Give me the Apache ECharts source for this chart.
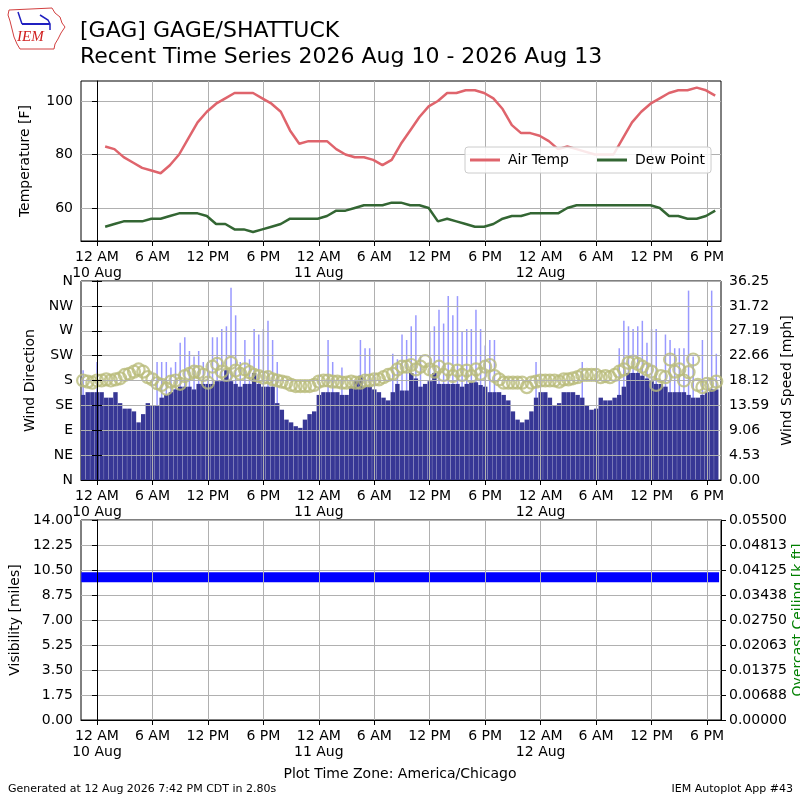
<!DOCTYPE html>
<html>
<head>
<meta charset="utf-8">
<script src="https://cdn.jsdelivr.net/npm/echarts@6/dist/echarts.min.js"></script>
<style>
html, body { margin: 0; padding: 0; background: #fff; }
#chart { width: 800px; height: 800px; }
</style>
</head>
<body>
<div id="chart"></div>
<script>
// hours since 10 Aug 00:00 (America/Chicago)
var xMin = -1.73;
var xMax = 67.51;
var xTickValues = [0, 6, 12, 18, 24, 30, 36, 42, 48, 54, 60, 66];
var xTickLabels = ['12 AM\n10 Aug', '6 AM', '12 PM', '6 PM', '12 AM\n11 Aug', '6 AM', '12 PM', '6 PM', '12 AM\n12 Aug', '6 AM', '12 PM', '6 PM'];

// hourly obs at :53
var obsStart = 53 / 60;
var airTemp = [83, 82, 79, 77, 75, 74, 73, 76, 80, 86, 92, 96, 99, 101, 103, 103, 103, 101, 99, 96,
	89, 84, 85, 85, 85, 82, 80, 79, 79, 78, 76, 78, 84, 89, 94, 98, 100, 103, 103, 104,
	104, 103, 101, 97, 91, 88, 88, 87, 85, 82, 83, 82, 81, 80, 80, 80, 86, 92, 96, 99,
	101, 103, 104, 104, 105, 104, 102];
var dewPoint = [53, 54, 55, 55, 55, 56, 56, 57, 58, 58, 58, 57, 54, 54, 52, 52, 51, 52, 53, 54,
	56, 56, 56, 56, 57, 59, 59, 60, 61, 61, 61, 62, 62, 61, 61, 60, 55, 56, 55, 54,
	53, 53, 54, 56, 57, 57, 58, 58, 58, 58, 60, 61, 61, 61, 61, 61, 61, 61, 61, 61,
	60, 57, 57, 56, 56, 57, 59];
var tempTicks = [60, 80, 100];

// wind every 30 minutes starting at -1.5 h
var windStart = -1.5;
var windStep = 0.5;
var windSpeed = [
	15.5, 16, 16, 16, 16, 15, 15, 16, 14, 13, 13, 12.5, 10.5, 12, 14, 13.5, 13.5, 15, 15.5, 16,
	16.5, 17, 17, 17, 16.5, 17.5, 17.5, 17.5, 17.5, 18, 18, 20, 18, 17.5, 17,
	17.5, 17.5, 19.5, 17.5, 17, 17, 17, 14, 12.8, 11, 10.5, 9.8, 9.5, 11, 12, 12.5, 15.5, 16, 16, 16,
	16, 15.5, 15.5, 17, 18, 19, 17, 17, 16.5, 16, 15, 14.5, 16, 17.5,
	16.3, 16.3, 19.5, 18.5, 17, 17.5, 18, 19.5, 17.5, 17.5, 17.5, 17.5, 17.5, 17, 17.5, 17.8, 17.8, 17.3, 17, 16,
	16, 16, 15.5, 14.5, 12.5, 11, 10.5, 11, 12.5, 15, 16, 16, 15, 13.5, 14,
	16, 16, 16, 15.5, 15, 13.5, 12.8, 13, 15, 14.5, 14.5, 15, 15.5, 17, 19.5, 19.5, 19.5, 19, 18.5, 18,
	17.5, 17.5, 17, 16, 16, 16, 16, 15.5, 15, 15, 15.5, 16, 16.5, 16.5];
var windGust = [
	20, null, null, 21.5, null, null, null, null, null, null, null, null, null, null, null, null,
	21.5, 21.5, 21.5, 20.5, 21.5, 25, 26, 23.5, 22.5, 23.5, 21.5, 21.5, 26, 26, 27.5, 28, 35, 30, 21.5,
	25.5, 22, 27.5, 26.5, 27.5, 29, 25.5, 21.5, null, null, null, null, null, null, null, null, null, null,
	25.5, 21.5, null, 20.5, null, null, null, 25.5, 24, 24, null, null, null, null, 23, 22,
	26.5, 25.5, 28, 30, 22.5, null, 27, 28, 31, 28.5, 33.5, 30, 33.5, 27, 27.5, 27.5, 31, 27.5, 24.5, 25.5, 25.5,
	null, null, null, null, null, null, null, null, 21.5, null, null, null, null, null,
	null, null, null, null, 21.5, null, null, null, null, null, null, null,
	24, 29, 28, 27.5, 28, 29, 25, 27.5, 27.5, null, 26.5, 25.5, 24, 24, 24, 34.5, 22.5, null, 25.5, null, 34.5, 23];
var windDir = [
	180, 178, 176, 180, 180, 182, 180, 182, 184, 190, 192, 196, 200, 196, 186, 182, 175, 172, 165, 178,
	180, 174, 188, 192, 196, 195, 190, 176, 205, 210, 196, 190, 212, 198, 192,
	200, 195, 190, 188, 185, 186, 182, 180, 178, 176, 172, 170, 170, 170, 170, 172, 178, 180, 180, 178,
	178, 176, 176, 178, 176, 176, 180, 180, 182, 182, 186, 190, 192, 200,
	205, 205, 208, 200, 205, 215, 200, 196, 205, 190, 200, 188, 198, 190, 198, 188, 200, 192, 205, 208,
	188, 182, 176, 176, 176, 176, 176, 168, 176, 178, 180, 180, 180, 180, 178,
	182, 182, 184, 186, 190, 190, 190, 190, 186, 188, 186, 190, 196, 200, 212, 214, 210, 205, 200, 196,
	172, 188, 186, 218, 196, 200, 180, 195, 218, 172, 168, 174, 172, 178];
var dirTickLabels = ['N', 'NE', 'E', 'SE', 'S', 'SW', 'W', 'NW', 'N'];
var speedTickLabels = ['0.00', '4.53', '9.06', '13.59', '18.12', '22.66', '27.19', '31.72', '36.25'];

// visibility, hourly
var visStart = -1.7;
var visibility = [10, 10, 10, 10, 10, 10, 10, 10, 10, 10, 10, 10, 10, 10, 10, 10, 10, 10, 10, 10,
	10, 10, 10, 10, 10, 10, 10, 10, 10, 10, 10, 10, 10, 10, 10, 10, 10, 10, 10, 10,
	10, 10, 10, 10, 10, 10, 10, 10, 10, 10, 10, 10, 10, 10, 10, 10, 10, 10, 10, 10,
	10, 10, 10, 10, 10, 10, 10, 10, 10, 10];
var ceilTickLabels = ['0.00000', '0.00688', '0.01375', '0.02063', '0.02750', '0.03438', '0.04125', '0.04813', '0.05500'];

function pairs(start, step, vals) {
	var out = [];
	for (var i = 0; i < vals.length; i++) {
		if (vals[i] !== null) out.push([start + i * step, vals[i]]);
	}
	return out;
}

var FONT = 'DejaVu Sans';
var GRIDC = '#b0b0b0';

function xAxisFor(gridIndex, hidden, z) {
	if (hidden) {
		return {type: 'value', gridIndex: gridIndex, min: xMin, max: xMax, show: false};
	}
	return {
		type: 'value', gridIndex: gridIndex, min: xMin, max: xMax, z: z || 0,
		axisLine: {show: true, onZero: false, lineStyle: {color: '#000'}},
		axisTick: {show: true, length: 5, customValues: xTickValues, lineStyle: {color: '#000'}},
		axisLabel: {
			customValues: xTickValues, color: '#000', fontSize: 14, fontFamily: FONT,
			margin: 8, lineHeight: 16,
			formatter: function (v) { return xTickLabels[xTickValues.indexOf(Math.round(v))]; }
		},
		splitLine: {show: true, lineStyle: {color: GRIDC, width: 1}}
	};
}

function yName(name, gap, color) {
	return {
		name: name, nameLocation: 'middle', nameGap: gap, nameRotate: 90,
		nameTextStyle: {fontSize: 14, fontFamily: FONT, color: color || '#000'}
	};
}

function gridAt(top, height) {
	return {
		left: 81, right: 79, top: top, height: height,
		outerBoundsMode: 'none', containLabel: false,
		show: true, borderColor: '#000', borderWidth: 1, backgroundColor: 'transparent'
	};
}

var chart = echarts.init(document.getElementById('chart'));

var option = {
	animation: false,
	backgroundColor: '#fff',
	textStyle: {fontFamily: FONT},
	grid: [gridAt(81, 160), gridAt(281, 199), gridAt(520, 200)],
	xAxis: [xAxisFor(0), xAxisFor(1, false, 10), xAxisFor(1, true), xAxisFor(2, false, 10)],
	yAxis: [
		Object.assign({
			type: 'value', gridIndex: 0, min: 47.66, max: 107.48,
			axisLine: {show: true, lineStyle: {color: '#000'}},
			axisTick: {show: true, length: 5, customValues: tempTicks, lineStyle: {color: '#000'}},
			axisLabel: {customValues: tempTicks, color: '#000', fontSize: 14, fontFamily: FONT, margin: 8},
			splitLine: {show: true, lineStyle: {color: GRIDC, width: 1}}
		}, yName('Temperature [F]', 49)),
		Object.assign({
			type: 'value', gridIndex: 1, min: 0, max: 360, interval: 45, z: 10,
			axisLine: {show: true, lineStyle: {color: '#000'}},
			axisTick: {show: true, length: 5, lineStyle: {color: '#000'}},
			axisLabel: {
				color: '#000', fontSize: 14, fontFamily: FONT, margin: 8,
				formatter: function (v) { return dirTickLabels[Math.round(v / 45)]; }
			},
			splitLine: {show: true, lineStyle: {color: GRIDC, width: 1}}
		}, yName('Wind Direction', 36)),
		Object.assign({
			type: 'value', gridIndex: 1, position: 'right', min: 0, max: 36.25, interval: 4.53125, z: 10,
			axisLine: {show: true, lineStyle: {color: '#000'}},
			axisTick: {show: true, length: 5, lineStyle: {color: '#000'}},
			axisLabel: {
				color: '#000', fontSize: 14, fontFamily: FONT, margin: 8,
				formatter: function (v) { return speedTickLabels[Math.round(v / 4.53125)]; }
			},
			splitLine: {show: false}
		}, yName('Wind Speed [mph]', 55)),
		Object.assign({
			type: 'value', gridIndex: 2, min: 0, max: 14, interval: 1.75, z: 10,
			axisLine: {show: true, lineStyle: {color: '#000'}},
			axisTick: {show: true, length: 5, lineStyle: {color: '#000'}},
			axisLabel: {
				color: '#000', fontSize: 14, fontFamily: FONT, margin: 8,
				formatter: function (v) { return v.toFixed(2); }
			},
			splitLine: {show: true, lineStyle: {color: GRIDC, width: 1}}
		}, yName('Visibility [miles]', 52)),
		Object.assign({
			type: 'value', gridIndex: 2, position: 'right', min: 0, max: 0.055, interval: 0.006875, z: 10,
			nameMoveOverlap: false,
			axisLine: {show: true, lineStyle: {color: '#000'}},
			axisTick: {show: true, length: 5, lineStyle: {color: '#000'}},
			axisLabel: {
				color: '#000', fontSize: 14, fontFamily: FONT, margin: 8,
				formatter: function (v) { return ceilTickLabels[Math.round(v / 0.006875)]; }
			},
			splitLine: {show: false}
		}, yName('Overcast Ceiling [k ft]', 70, '#008000'))
	],
	legend: {
		data: [{name: 'Air Temp', icon: 'rect'}, {name: 'Dew Point', icon: 'rect'}],
		left: 465, top: 147,
		itemWidth: 30, itemHeight: 3, itemGap: 28,
		backgroundColor: 'rgba(255,255,255,0.85)',
		borderColor: '#cccccc', borderWidth: 1, borderRadius: 3,
		padding: [6, 6, 6, 5],
		textStyle: {fontSize: 14, fontFamily: FONT, color: '#000', padding: [0, 0, 0, 3]}
	},
	series: [
		{
			name: 'Air Temp', type: 'line', xAxisIndex: 0, yAxisIndex: 0,
			symbol: 'none', color: '#df646c',
			lineStyle: {width: 2.5, color: '#df646c'},
			data: pairs(obsStart, 1, airTemp)
		},
		{
			name: 'Dew Point', type: 'line', xAxisIndex: 0, yAxisIndex: 0,
			symbol: 'none', color: '#336633',
			lineStyle: {width: 2.5, color: '#336633'},
			data: pairs(obsStart, 1, dewPoint)
		},
		{
			name: 'Gust', type: 'bar', xAxisIndex: 2, yAxisIndex: 2,
			barWidth: 1.5, itemStyle: {color: '#9999ff'}, z: 1,
			data: pairs(windStart, windStep, windGust)
		},
		{
			name: 'Wind Speed', type: 'bar', xAxisIndex: 1, yAxisIndex: 2,
			barWidth: 4.4, itemStyle: {color: '#373795'}, z: 2,
			data: pairs(windStart, windStep, windSpeed)
		},
		{
			name: 'Wind Direction', type: 'scatter', xAxisIndex: 1, yAxisIndex: 1,
			symbol: 'circle', symbolSize: 12, z: 3,
			itemStyle: {color: 'rgba(0,0,0,0)', borderColor: '#b9bb7a', borderWidth: 2.2},
			data: pairs(windStart, windStep, windDir)
		},
		{
			name: 'Visibility', type: 'line', xAxisIndex: 3, yAxisIndex: 3,
			symbol: 'none', lineStyle: {width: 10, color: '#0000ff', cap: 'butt'},
			data: pairs(visStart, 1, visibility)
		}
	],
	graphic: [
		{type: 'text', left: 80, top: 20, style: {text: '[GAG] GAGE/SHATTUCK', fontSize: 22, fontFamily: FONT, fill: '#000'}},
		{type: 'text', left: 80, top: 46, style: {text: 'Recent Time Series 2026 Aug 10 - 2026 Aug 13', fontSize: 22, fontFamily: FONT, fill: '#000'}},
		{type: 'polygon', shape: {points: [[9, 10], [52, 8], [55, 13], [60, 17], [62, 23], [65, 27], [61, 33], [58, 39], [55, 44], [54, 49], [20, 49], [17, 44], [14, 37], [12, 29], [10, 21], [8, 15]]},
			style: {fill: 'none', stroke: '#d24040', lineWidth: 1}},
		{type: 'polyline', shape: {points: [[22, 24], [50, 24]]}, style: {stroke: '#2020c0', lineWidth: 2}},
		{type: 'polyline', shape: {points: [[18, 12], [22, 24]]}, style: {stroke: '#2020c0', lineWidth: 1.5}},
		{type: 'polyline', shape: {points: [[40, 15], [48, 20], [50, 24], [50, 30]]}, style: {stroke: '#2020c0', lineWidth: 1.5}},
		{type: 'text', left: 17, top: 30, style: {text: 'IEM', fontSize: 15, fontStyle: 'italic', fontFamily: 'Liberation Serif', fill: '#d02020'}},
		{type: 'text', left: 'center', top: 767, style: {text: 'Plot Time Zone: America/Chicago', fontSize: 14, fontFamily: FONT, fill: '#000'}},
		{type: 'text', left: 8, top: 784, style: {text: 'Generated at 12 Aug 2026 7:42 PM CDT in 2.80s', fontSize: 11, fontFamily: FONT, fill: '#000'}},
		{type: 'text', right: 7, top: 784, style: {text: 'IEM Autoplot App #43', fontSize: 11, fontFamily: FONT, fill: '#000'}}
	]
};

chart.setOption(option);
</script>
</body>
</html>
